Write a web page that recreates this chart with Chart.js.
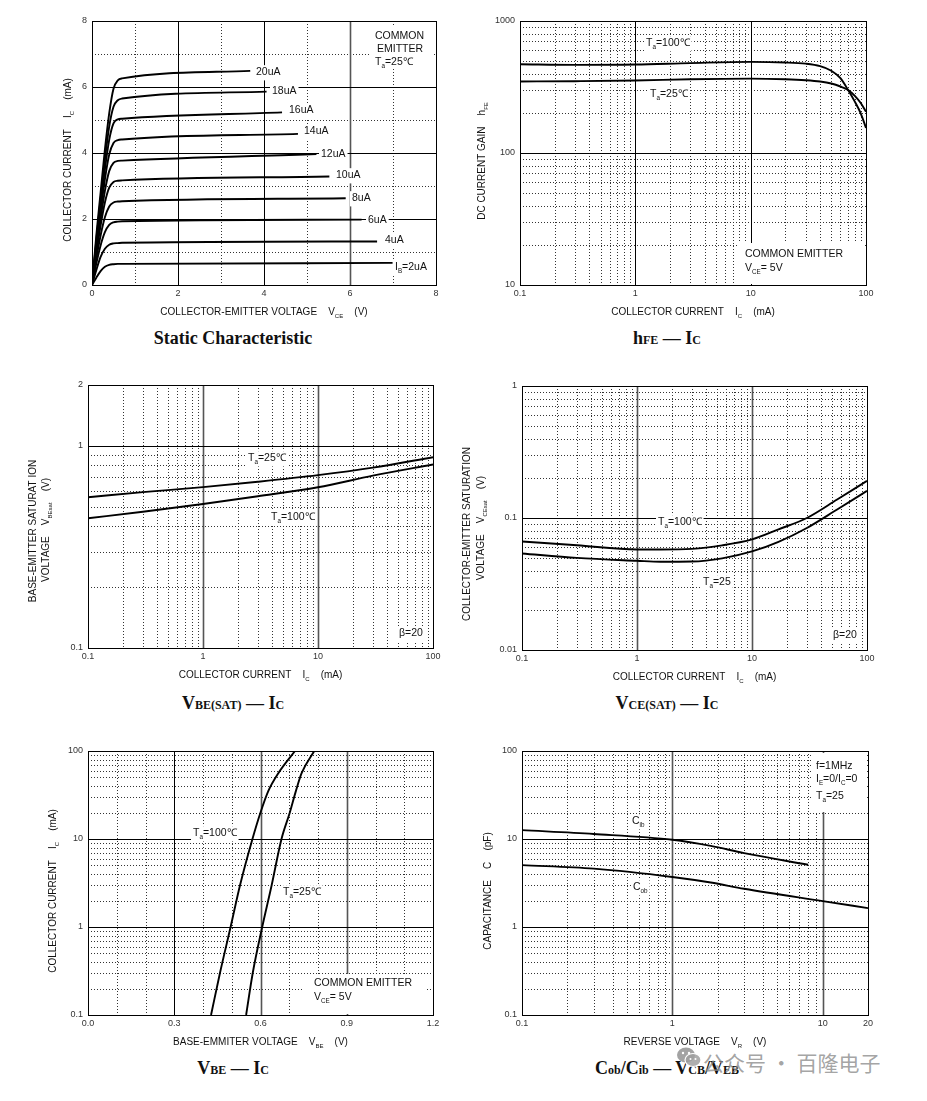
<!DOCTYPE html>
<html><head><meta charset="utf-8">
<script src="https://cdn.jsdelivr.net/npm/chart.js@4.4.1/dist/chart.umd.min.js"></script>
<style>
html,body{margin:0;padding:0;background:#fff}
body{width:927px;height:1101px;position:relative;overflow:hidden}
canvas{position:absolute;left:0;top:0}
.t{position:absolute;font-family:"Liberation Serif","Times New Roman",serif;font-weight:bold;font-size:18px;line-height:22px;color:#111;white-space:nowrap;transform:translateX(-50%)}
.t small{font-size:12px}
.wm{position:absolute;left:703px;top:1048px;font-family:"Noto Sans CJK SC",sans-serif;font-size:21px;line-height:28px;color:rgba(140,140,140,0.8);white-space:nowrap}
.ic{position:absolute;left:676px;top:1046px;z-index:5}
</style></head>
<body>
<div class="t" style="left:233px;top:327px">Static Characteristic</div>
<div class="t" style="left:667px;top:327px">h<small>FE</small> — I<small>C</small></div>
<div class="t" style="left:233px;top:692px">V<small>BE(SAT)</small> — I<small>C</small></div>
<div class="t" style="left:667px;top:692px">V<small>CE(SAT)</small> — I<small>C</small></div>
<div class="t" style="left:233px;top:1057px">V<small>BE</small> — I<small>C</small></div>
<div class="t" style="left:667px;top:1057px">C<small>ob</small>/C<small>ib</small> — V<small>CB</small>/V<small>EB</small></div>
<svg class="ic" width="26" height="24" viewBox="0 0 26 24">
  <ellipse cx="10" cy="9" rx="9" ry="7.5" fill="rgba(140,140,140,0.8)"/>
  <ellipse cx="17" cy="14" rx="8" ry="6.5" fill="rgba(160,160,160,0.85)" stroke="#fff" stroke-width="1.2"/>
  <circle cx="7" cy="7" r="1.2" fill="#fff"/><circle cx="13" cy="7" r="1.2" fill="#fff"/>
  <circle cx="14.5" cy="13" r="1" fill="#fff"/><circle cx="19.5" cy="13" r="1" fill="#fff"/>
</svg>
<div class="wm">公众号 · 百隆电子</div>
<script>
// ---------------- DATA ----------------
// Static characteristic: VCE (V) vs IC (mA) for each IB
const ibLabels = ['20uA','18uA','16uA','14uA','12uA','10uA','8uA','6uA','4uA','I_{B}=2uA'];
const riseVce = [0, 0.1, 0.2, 0.3, 0.4, 0.5, 0.6, 0.7];
const endVce = [3.68, 4.06, 4.42, 4.79, 5.22, 5.52, 5.90, 6.27, 6.63, 6.99];
const ic20uA = [0, 1.50, 2.80, 4.10, 5.20, 5.95, 6.20, 6.26, 6.49];
const ic18uA = [0, 1.35, 2.60, 3.80, 4.80, 5.40, 5.60, 5.65, 5.86];
const ic16uA = [0, 1.25, 2.40, 3.50, 4.40, 4.90, 5.02, 5.04, 5.23];
const ic14uA = [0, 1.15, 2.20, 3.20, 3.95, 4.30, 4.39, 4.41, 4.58];
const ic12uA = [0, 1.05, 2.00, 2.85, 3.45, 3.70, 3.76, 3.77, 3.97];
const ic10uA = [0, 0.95, 1.80, 2.50, 2.95, 3.12, 3.16, 3.17, 3.29];
const ic8uA  = [0, 0.80, 1.50, 2.05, 2.38, 2.50, 2.53, 2.54, 2.63];
const ic6uA  = [0, 0.65, 1.20, 1.60, 1.82, 1.90, 1.92, 1.93, 1.98];
const ic4uA  = [0, 0.45, 0.85, 1.10, 1.22, 1.26, 1.27, 1.28, 1.32];
const ic2uA  = [0, 0.22, 0.42, 0.55, 0.61, 0.63, 0.64, 0.64, 0.67];

// hFE vs IC
const hfeIC  = [0.1, 0.3, 1, 3, 10, 20, 30, 40, 50, 60, 70, 80, 90, 100];
const hfe100 = [470, 465, 468, 480, 490, 485, 475, 455, 420, 369, 300, 245, 200, 155];
const hfe25  = [348, 350, 354, 362, 366, 362, 356, 348, 336, 319, 300, 271, 239, 205];

// VBE(sat) vs IC
const vbeSatIC  = [0.1, 0.3, 1, 3, 10, 30, 100];
const vbeSat25  = [0.557, 0.590, 0.625, 0.664, 0.716, 0.780, 0.879];
const vbeSat100 = [0.438, 0.472, 0.516, 0.563, 0.624, 0.712, 0.809];

// VCE(sat) vs IC
const vceSatIC  = [0.1, 0.3, 1, 1.6, 3, 5.5, 10, 17, 30, 55, 100];
const vceSat100 = [0.0664, 0.0622, 0.0578, 0.0578, 0.0584, 0.0620, 0.0688, 0.0820, 0.1000, 0.1380, 0.1910];
const vceSat25  = [0.0539, 0.0499, 0.0474, 0.0466, 0.0468, 0.0495, 0.0558, 0.0660, 0.0840, 0.1160, 0.1605];

// IC vs VBE
const vbeIC   = [0.1, 0.3, 1, 3, 10, 20, 35, 56, 100];
const vbe100V = [0.428, 0.459, 0.496, 0.529, 0.572, 0.600, 0.627, 0.662, 0.720];
const vbe25V  = [0.550, 0.573, 0.606, 0.639, 0.673, 0.702, 0.723, 0.743, 0.787];

// Capacitance vs reverse voltage
const cibVR = [0.1, 0.3, 1, 1.8, 3, 8];
const cibPF = [12.6, 11.4, 9.8, 8.35, 6.9, 5.1];
const cobVR = [0.1, 0.3, 1, 1.8, 3, 10, 20];
const cobPF = [5.05, 4.6, 3.7, 3.2, 2.72, 1.97, 1.64];

// Tick labels
const staticTicks = [0, 2, 4, 6, 8];
const decadeTicks = [0.1, 1, 10, 100];
const hfeYTicks = [10, 100, 1000];
const vbeSatYTicks = [0.1, 1, 2];
const vceSatYTicks = [0.01, 0.1, 1];
const vbeXTicks = [0, 0.3, 0.6, 0.9, 1.2];
const capXTicks = [0.1, 1, 10, 20];

// Grid positions
const minorLog = (d) => [2,3,4,5,6,7,8,9].map(k => +(k*d).toPrecision(3));
const grid01_100 = [...minorLog(0.1), ...minorLog(1), ...minorLog(10)];
const grid01_20 = [...minorLog(0.1), ...minorLog(1)];

// ---------------- DRAWING ----------------
const FONT = '"Liberation Sans", Arial, sans-serif';
function parseRich(str){
  const parts=[]; const re=/_\{([^}]*)\}/g; let last=0,m;
  while((m=re.exec(str))){ if(m.index>last) parts.push([str.slice(last,m.index),false]); parts.push([m[1],true]); last=re.lastIndex; }
  if(last<str.length) parts.push([str.slice(last),false]);
  return parts;
}
function measureRich(ctx,str,size){
  let w=0; for(const p of parseRich(str)){ ctx.font=(p[1]?size*0.6:size)+'px '+FONT; w+=ctx.measureText(p[0]).width; } return w;
}
function drawRich(ctx,str,x,y,size,align,color){
  const w=measureRich(ctx,str,size);
  let cx = align==='center'? x-w/2 : align==='right'? x-w : x;
  ctx.textBaseline='middle'; ctx.textAlign='left'; ctx.fillStyle=color||'#111';
  for(const p of parseRich(str)){
    const s=p[1]?size*0.6:size; ctx.font=s+'px '+FONT;
    ctx.fillText(p[0],cx,y+(p[1]?size*0.42:0)); cx+=ctx.measureText(p[0]).width;
  }
  return w;
}
const fmt = v => String(v);

function makePanel(area, xOpt, yOpt, datasets, deco){
  const cv=document.createElement('canvas'); cv.width=927; cv.height=1101; document.body.appendChild(cv);
  const plugin={
    id:'deco',
    beforeDatasetsDraw(chart){
      const ctx=chart.ctx, a=chart.chartArea, xs=chart.scales.x, ys=chart.scales.y;
      ctx.save();
      const vline=(px,style)=>{ const X=Math.round(px)+0.5; ctx.beginPath(); ctx.moveTo(X,a.top); ctx.lineTo(X,a.bottom); applyStyle(style); ctx.stroke(); };
      const hline=(py,style)=>{ const Y=Math.round(py)+0.5; ctx.beginPath(); ctx.moveTo(a.left,Y); ctx.lineTo(a.right,Y); applyStyle(style); ctx.stroke(); };
      function applyStyle(s){
        if(s==='dot'){ ctx.setLineDash([1,2]); ctx.lineWidth=1; ctx.strokeStyle='#333'; }
        else if(s==='gray'){ ctx.setLineDash([]); ctx.lineWidth=1.6; ctx.strokeStyle='#555'; }
        else { ctx.setLineDash([]); ctx.lineWidth=1; ctx.strokeStyle='#000'; }
      }
      for(const g of deco.grid){
        for(const v of g.v){ if(g.axis==='x') vline(xs.getPixelForValue(v),g.style); else hline(ys.getPixelForValue(v),g.style); }
      }
      ctx.setLineDash([]);
      // white boxes
      ctx.fillStyle='#fff';
      for(const b of (deco.boxes||[])) ctx.fillRect(b[0],b[1],b[2]-b[0],b[3]-b[1]);
      // border
      ctx.strokeStyle='#000'; ctx.lineWidth=1;
      ctx.strokeRect(Math.round(a.left)+0.5,Math.round(a.top)+0.5,Math.round(a.right-a.left),Math.round(a.bottom-a.top));
      // tick labels
      for(const t of deco.xTicks){ drawRich(ctx, t[1], xs.getPixelForValue(t[0]), a.bottom+9, 9, 'center', '#333'); }
      for(const t of deco.yTicks){ drawRich(ctx, t[1], a.left-5, ys.getPixelForValue(t[0]), 9, 'right', '#333'); }
      // x title
      drawRich(ctx, deco.xTitle, (a.left+a.right)/2, a.bottom+27, 10, 'center', '#111');
      // y titles (rotated)
      for(const yt of deco.yTitles){
        ctx.save(); ctx.translate(yt.x, yt.y); ctx.rotate(-Math.PI/2);
        drawRich(ctx, yt.t, 0, 0, 10, 'center', '#111'); ctx.restore();
      }
      // annotations
      for(const n of (deco.notes||[])){
        const size=n.s||10.5;
        if(n.box){ const w=measureRich(ctx,n.t,size); ctx.fillStyle='#fff'; ctx.fillRect(n.x-2,n.y-size*0.65,w+4,size*1.45); }
        drawRich(ctx, n.t, n.x, n.y, size, 'left', '#111');
      }
      ctx.restore();
    }
  };
  return new Chart(cv,{
    type:'scatter',
    data:{datasets: datasets.map(d=>({data:d.x.map((x,i)=>({x, y:d.y[i]})), showLine:true, borderColor:'#000', borderWidth:1.9, pointRadius:0, cubicInterpolationMode:'monotone', fill:false}))},
    options:{
      responsive:false, animation:false, devicePixelRatio:1, events:[],
      layout:{padding:{left:area.l, top:area.t, right:927-area.r, bottom:1101-area.b}},
      plugins:{legend:{display:false}, tooltip:{enabled:false}},
      scales:{ x:Object.assign({display:false}, xOpt), y:Object.assign({display:false}, yOpt) }
    },
    plugins:[plugin]
  });
}
const tk = arr => arr.map(v=>[v, fmt(v)]);

// Panel 1: Static characteristic
const staticIC = [ic20uA, ic18uA, ic16uA, ic14uA, ic12uA, ic10uA, ic8uA, ic6uA, ic4uA, ic2uA];
makePanel({l:92,t:21,r:436,b:285},
  {type:'linear',min:0,max:8},{type:'linear',min:0,max:8},
  staticIC.map((ys,i)=>({x:[...riseVce, endVce[i]], y:ys})),
  { grid:[{axis:'x',v:[1,3,5,7],style:'dot'},{axis:'y',v:[1,3,5,7],style:'dot'},
          {axis:'x',v:[2,4],style:'solid'},{axis:'x',v:[6],style:'gray'},{axis:'y',v:[2,4,6],style:'solid'}],
    boxes:[[371,25,433,69]],
    xTicks:tk(staticTicks), yTicks:tk(staticTicks),
    xTitle:'COLLECTOR-EMITTER VOLTAGE    V_{CE}    (V)',
    yTitles:[{x:68,y:160,t:'COLLECTOR CURRENT    I_{C}    (mA)'}],
    notes:[
      {t:ibLabels[0],x:256,y:72,box:true},{t:ibLabels[1],x:272,y:91,box:true},{t:ibLabels[2],x:289,y:110,box:true},
      {t:ibLabels[3],x:304,y:131,box:true},{t:ibLabels[4],x:321,y:154,box:true},{t:ibLabels[5],x:336,y:175,box:true},
      {t:ibLabels[6],x:352,y:198,box:true},{t:ibLabels[7],x:368,y:220,box:true},{t:ibLabels[8],x:385,y:240,box:true},
      {t:ibLabels[9],x:395,y:267,box:true},
      {t:'COMMON',x:375,y:36},{t:'EMITTER',x:377,y:49},{t:'T_{a}=25℃',x:375,y:62}
    ]});

// Panel 2: hFE - IC
makePanel({l:520,t:21,r:866,b:285},
  {type:'logarithmic',min:0.1,max:100},{type:'logarithmic',min:10,max:1000},
  [{x:hfeIC,y:hfe100},{x:hfeIC,y:hfe25}],
  { grid:[{axis:'x',v:grid01_100,style:'dot'},{axis:'y',v:[...minorLog(10),...minorLog(100)],style:'dot'},
          {axis:'x',v:[1,10],style:'solid'},{axis:'y',v:[100],style:'solid'}],
    boxes:[[737,243,864,284]],
    xTicks:tk(decadeTicks), yTicks:tk(hfeYTicks),
    xTitle:'COLLECTOR CURRENT    I_{C}    (mA)',
    yTitles:[{x:482,y:161,t:'DC CURRENT GAIN    h_{FE}'}],
    notes:[{t:'T_{a}=100℃',x:646,y:43,box:true},{t:'T_{a}=25℃',x:650,y:94,box:true},
           {t:'COMMON EMITTER',x:745,y:254},{t:'V_{CE}= 5V',x:745,y:268}]});

// Panel 3: VBE(sat) - IC
makePanel({l:88,t:385,r:433,b:648},
  {type:'logarithmic',min:0.1,max:100},{type:'logarithmic',min:0.1,max:2},
  [{x:vbeSatIC,y:vbeSat25},{x:vbeSatIC,y:vbeSat100}],
  { grid:[{axis:'x',v:grid01_100,style:'dot'},{axis:'y',v:minorLog(0.1),style:'dot'},
          {axis:'x',v:[1,10],style:'gray'},{axis:'y',v:[1],style:'solid'}],
    xTicks:tk(decadeTicks), yTicks:tk(vbeSatYTicks),
    xTitle:'COLLECTOR CURRENT    I_{C}    (mA)',
    yTitles:[{x:33,y:531,t:'BASE-EMITTER SATURAT ION'},{x:46,y:530,t:'VOLTAGE    V_{BEsat}    (V)'}],
    notes:[{t:'T_{a}=25℃',x:248,y:458,box:true},{t:'T_{a}=100℃',x:271,y:517,box:true},{t:'β=20',x:399,y:633,box:true}]});

// Panel 4: VCE(sat) - IC
makePanel({l:522,t:386,r:867,b:650},
  {type:'logarithmic',min:0.1,max:100},{type:'logarithmic',min:0.01,max:1},
  [{x:vceSatIC,y:vceSat100},{x:vceSatIC,y:vceSat25}],
  { grid:[{axis:'x',v:grid01_100,style:'dot'},{axis:'y',v:[...minorLog(0.01),...minorLog(0.1)],style:'dot'},
          {axis:'x',v:[1,10],style:'gray'},{axis:'y',v:[0.1],style:'solid'}],
    xTicks:tk(decadeTicks), yTicks:tk(vceSatYTicks),
    xTitle:'COLLECTOR CURRENT    I_{C}    (mA)',
    yTitles:[{x:467,y:534,t:'COLLECTOR-EMITTER SATURATION'},{x:481,y:528,t:'VOLTAGE    V_{CEsat}    (V)'}],
    notes:[{t:'T_{a}=100℃',x:658,y:522,box:true},{t:'T_{a}=25',x:703,y:582,box:true},{t:'β=20',x:833,y:635,box:true}]});

// Panel 5: IC - VBE
makePanel({l:88,t:751,r:433,b:1015},
  {type:'linear',min:0,max:1.2},{type:'logarithmic',min:0.1,max:100},
  [{x:vbe100V,y:vbeIC},{x:vbe25V,y:vbeIC}],
  { grid:[{axis:'x',v:[0.1,0.2,0.4,0.5,0.7,0.8,1.0,1.1],style:'dot'},{axis:'y',v:grid01_100,style:'dot'},
          {axis:'x',v:[0.3],style:'solid'},{axis:'x',v:[0.6,0.9],style:'gray'},{axis:'y',v:[1,10],style:'solid'}],
    boxes:[[303,974,425,1014]],
    xTicks:vbeXTicks.map(v=>[v,v.toFixed(1)]), yTicks:tk(decadeTicks),
    xTitle:'BASE-EMMITER VOLTAGE    V_{BE}    (V)',
    yTitles:[{x:53,y:891,t:'COLLECTOR CURRENT    I_{C}    (mA)'}],
    notes:[{t:'T_{a}=100℃',x:193,y:833,box:true},{t:'T_{a}=25℃',x:283,y:892,box:true},
           {t:'COMMON EMITTER',x:314,y:983},{t:'V_{CE}= 5V',x:314,y:997}]});

// Panel 6: Capacitance
makePanel({l:522,t:751,r:868,b:1015},
  {type:'logarithmic',min:0.1,max:20},{type:'logarithmic',min:0.1,max:100},
  [{x:cibVR,y:cibPF},{x:cobVR,y:cobPF}],
  { grid:[{axis:'x',v:grid01_20,style:'dot'},{axis:'y',v:grid01_100,style:'dot'},
          {axis:'x',v:[1,10],style:'gray'},{axis:'y',v:[1,10],style:'solid'}],
    boxes:[[811,753,866,812]],
    xTicks:tk(capXTicks), yTicks:tk(decadeTicks),
    xTitle:'REVERSE VOLTAGE    V_{R}    (V)',
    yTitles:[{x:488,y:891,t:'CAPACITANCE    C    (pF)'}],
    notes:[{t:'C_{ib}',x:632,y:821,box:true},{t:'C_{ob}',x:633,y:887,box:true},
           {t:'f=1MHz',x:816,y:766},{t:'I_{E}=0/I_{C}=0',x:816,y:779},{t:'T_{a}=25',x:816,y:796}]});
</script>
</body></html>
